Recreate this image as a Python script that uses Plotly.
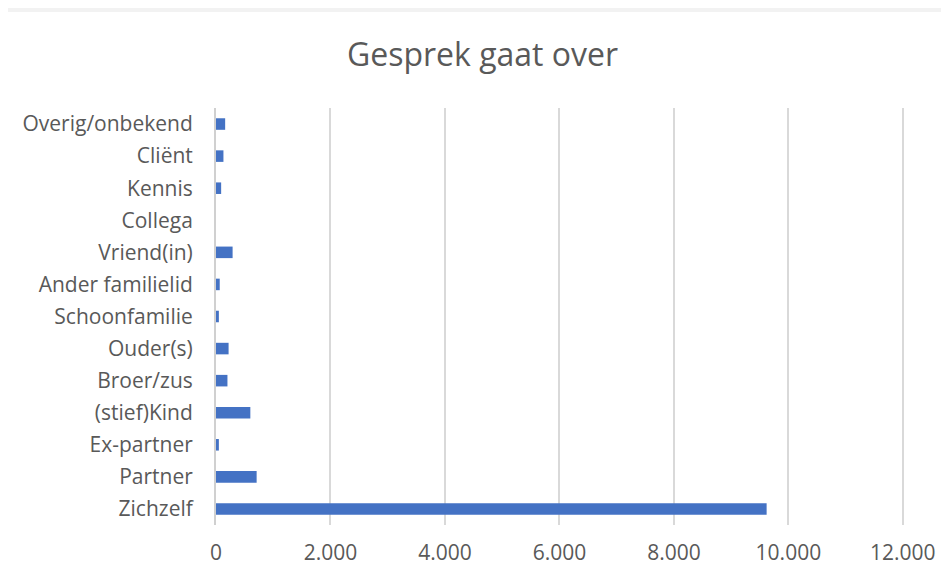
import plotly.graph_objects as go

categories = ["Zichzelf", "Partner", "Ex-partner", "(stief)Kind", "Broer/zus", "Ouder(s)",
              "Schoonfamilie", "Ander familielid", "Vriend(in)", "Collega", "Kennis",
              "Cliënt", "Overig/onbekend"]
values = [9620, 710, 50, 600, 200, 220, 50, 65, 290, 0, 90, 130, 160]
tick_vals = [0, 2000, 4000, 6000, 8000, 10000, 12000]

fig = go.Figure(go.Bar(
    x=values, y=categories, orientation="h",
    marker=dict(color="#4472C4", line=dict(width=0)),
))

fig.update_layout(
    width=949, height=573,
    paper_bgcolor="white", plot_bgcolor="white",
    margin=dict(l=208, r=53, t=100, b=56),
    bargap=0.64,
    separators=",.",
    font=dict(family="Open Sans, Noto Sans, sans-serif", color="#595959", size=21),
    title=dict(text="Gesprek gaat over", x=0.5, xanchor="center", y=0.918, yanchor="middle",
               font=dict(size=32, color="#595959")),
    showlegend=False,
    shapes=[
        dict(type="rect", xref="paper", yref="paper", x0=-0.5, x1=1.5,
             y0=1 + 96/417, y1=1 + 101/417,
             line=dict(width=0), fillcolor="#F2F2F2", layer="below"),
    ],
)
fig.update_xaxes(range=[0, 12020], tickvals=tick_vals, tickformat=",d",
                 showgrid=True, gridcolor="#D9D9D9", gridwidth=1.5, zeroline=False,
                 showline=False, ticks="", ticklabelstandoff=13,
                 tickfont=dict(size=21, color="#595959"))
fig.update_yaxes(categoryorder="array", categoryarray=categories,
                 showline=True, linecolor="#D0D0D0", linewidth=2, ticks="",
                 ticklabelstandoff=17, showgrid=False,
                 tickfont=dict(size=21, color="#595959"))

fig.write_html("out.html")
